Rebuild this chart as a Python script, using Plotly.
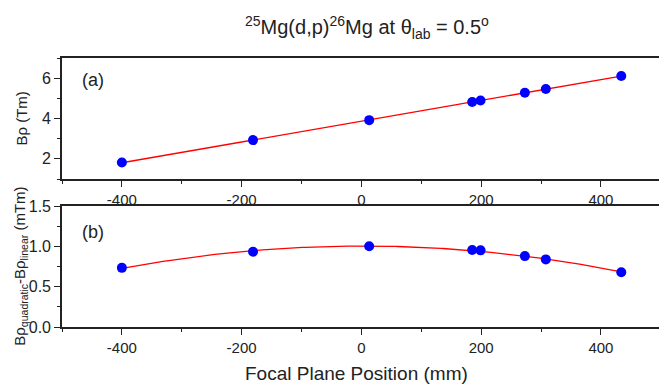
import numpy as np
import plotly.graph_objects as go
from plotly.subplots import make_subplots

# Data
focal_pos = [-400, -181, 13, 185, 199, 273, 308, 434]
b_rho = [1.82, 2.93, 3.92, 4.82, 4.89, 5.28, 5.46, 6.11]
b_rho_diff = [0.733, 0.933, 1.0, 0.954, 0.95, 0.879, 0.838, 0.679]

x_ticks = [-400, -200, 0, 200, 400]
x_tick_labels = ["-400", "-200", "0", "200", "400"]

FONT = "Arial, Liberation Sans, sans-serif"
AX = "#222222"

# fits derived from the data
lin = np.polyfit(focal_pos, b_rho, 1)
quad = np.polyfit(focal_pos, b_rho_diff, 2)
xf = np.linspace(min(focal_pos), max(focal_pos), 200)

fig = make_subplots(rows=2, cols=1, shared_xaxes=False, vertical_spacing=0.1)

fig.add_trace(go.Scatter(x=xf, y=np.polyval(lin, xf), mode="lines",
                         line=dict(color="red", width=1.3), showlegend=False), 1, 1)
fig.add_trace(go.Scatter(x=focal_pos, y=b_rho, mode="markers",
                         marker=dict(color="#0000ff", size=10), showlegend=False), 1, 1)
fig.add_trace(go.Scatter(x=xf, y=np.polyval(quad, xf), mode="lines",
                         line=dict(color="red", width=1.3), showlegend=False), 2, 1)
fig.add_trace(go.Scatter(x=focal_pos, y=b_rho_diff, mode="markers",
                         marker=dict(color="#0000ff", size=10), showlegend=False), 2, 1)

xcommon = dict(range=[-500, 497], tickvals=x_ticks, ticktext=x_tick_labels, ticks="outside",
               ticklen=6, tickwidth=1.3,
               tickcolor=AX, showline=True, linecolor=AX, linewidth=1.6, mirror=True,
               showgrid=False, zeroline=False,
               minor=dict(ticks="outside", ticklen=3, dtick=100, tick0=0, tickcolor=AX, tickwidth=1.2),
               tickfont=dict(family=FONT, size=15, color="#222"))
ycommon = dict(ticks="outside", ticklen=6, tickwidth=1.3, tickcolor=AX, showline=True,
               linecolor=AX, linewidth=1.6, mirror=False, showgrid=False, zeroline=False,
               tickfont=dict(family=FONT, size=16, color="#222"))

fig.update_xaxes(**xcommon, row=1, col=1)
fig.update_xaxes(**xcommon, row=2, col=1)
fig.update_yaxes(**ycommon, range=[1, 7], tickvals=[2, 4, 6],
                 minor=dict(ticks="outside", ticklen=3, dtick=1, tick0=0, tickcolor=AX, tickwidth=1.2),
                 row=1, col=1)
fig.update_yaxes(**ycommon, range=[0, 1.5], tickvals=[0, 0.5, 1.0, 1.5], tickformat=".1f",
                 minor=dict(ticks="outside", ticklen=3, dtick=0.25, tick0=0, tickcolor=AX, tickwidth=1.2),
                 row=2, col=1)

fig.update_layout(
    width=659, height=387,
    margin=dict(l=62, r=0, t=58, b=60),
    paper_bgcolor="white", plot_bgcolor="white",
    font=dict(family=FONT, color="#222"),
    xaxis=dict(domain=[0, 1]), xaxis2=dict(domain=[0, 1]),
    yaxis=dict(domain=[0.550, 1]), yaxis2=dict(domain=[0, 0.4498]),
)

ann = [
    dict(text="<sup>25</sup>Mg(d,p)<sup>26</sup>Mg at θ<sub>lab</sub> = 0.5<sup>o</sup>",
         x=0.511, y=1.112, font=dict(size=20)),
    dict(text="Focal Plane Position (mm)", x=0.493, y=-0.172, font=dict(size=19)),
    dict(text="Bρ (Tm)", x=-0.067, y=0.775, textangle=-90, font=dict(size=15)),
    dict(text="Bρ<sub>quadratic</sub>-Bρ<sub>linear</sub> (mTm)", x=-0.07, y=0.225,
         textangle=-90, font=dict(size=15)),
    dict(text="(a)", x=0.03, y=0.92, xanchor="left", font=dict(size=18)),
    dict(text="(b)", x=0.03, y=0.355, xanchor="left", font=dict(size=18)),
]
for a in ann:
    a.setdefault("xanchor", "center")
    fig.add_annotation(xref="paper", yref="paper", showarrow=False, yanchor="middle",
                       font_family=FONT, **a)

fig.write_html("out.html")
